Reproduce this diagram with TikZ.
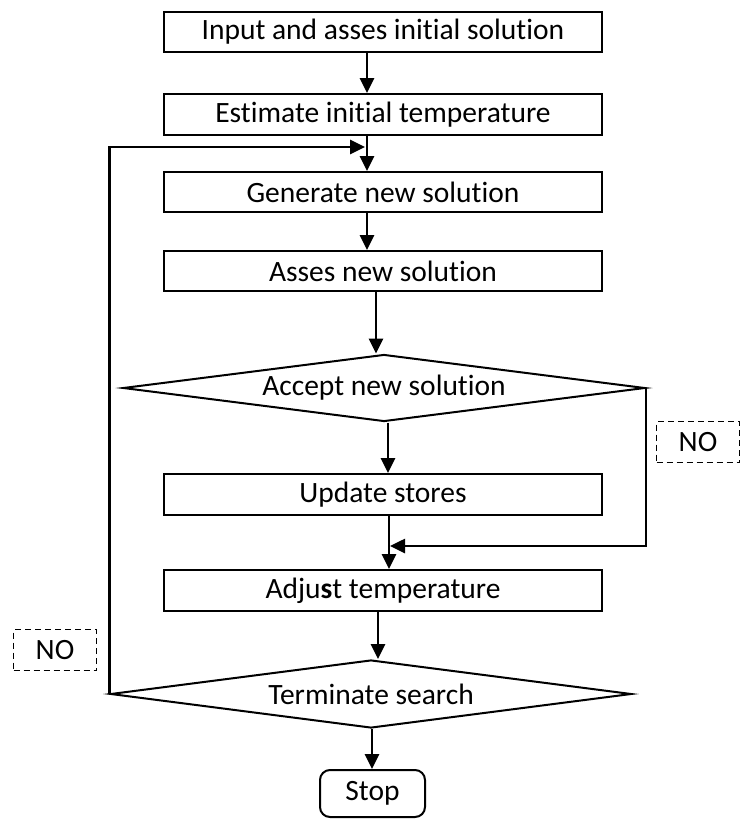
\documentclass[tikz,border=0pt]{standalone}
\usepackage{fontspec}
\setmainfont{Carlito}[Ligatures=NoCommon]
\usetikzlibrary{shapes.geometric,arrows.meta}
\begin{document}
\begin{tikzpicture}[x=1pt,y=-1pt,
  every node/.style={font=\fontsize{29.5}{34}\selectfont},
  procbox/.style={draw,line width=2pt,minimum width=438pt,minimum height=40pt,inner sep=0pt},
  decbox/.style={draw,diamond,line width=2pt,inner sep=0pt,aspect=7.8},
  nobox/.style={draw,dashed,line width=1.5pt,dash pattern=on 6pt off 4pt,minimum width=83pt,minimum height=41pt,inner sep=0pt},
  stopbox/.style={draw,rounded corners=10pt,line width=2pt,minimum width=105pt,minimum height=47pt,inner sep=0pt},
  arr/.style={line width=2.8pt,-{Triangle[length=15pt,width=14pt]}}]
\useasboundingbox (0,0) rectangle (743,819);
\node[procbox] (b1) at (383,32) {Input and asses initial solution};
\node[procbox,minimum height=41pt] (b2) at (383,114.5) {Estimate initial temperature};
\node[procbox] (b3) at (383,192) {Generate new solution};
\node[procbox] (b4) at (383,271) {Asses new solution};
\node[decbox,minimum width=522pt,minimum height=67pt] (d1) at (384,388) {Accept new solution};
\node[procbox,minimum height=41pt] (b5) at (383,494.5) {Update stores};
\node[procbox,minimum height=41pt] (b6) at (383,590.5) {Adju\textbf{s}t temperature};
\node[decbox,minimum width=521pt,minimum height=68pt] (d2) at (371,694) {Terminate search};
\node[stopbox] (stop) at (372.5,793.5) {Stop};
\node[nobox] (no1) at (698,442) {NO};
\node[nobox] (no2) at (55,650) {NO};
\coordinate (xa) at (367,0);
\coordinate (xb) at (376,0);
\coordinate (xc) at (388,0);
\coordinate (xd) at (389,0);
\coordinate (xe) at (378,0);
\coordinate (xf) at (372,0);
\coordinate (yfb) at (0,147);
\coordinate (yrt) at (0,546);
\draw[arr] (b1.south -| xa) -- (b2.north -| xa);
\draw[arr] (b2.south -| xa) -- (b3.north -| xa);
\draw[arr] (b3.south -| xa) -- (b4.north -| xa);
\draw[arr] (b4.south -| xb) -- (d1.north -| xb);
\draw[arr] (d1.south -| xc) -- (b5.north -| xc);
\draw[arr] (b5.south -| xd) -- (b6.north -| xd);
\draw[arr] (b6.south -| xe) -- (d2.north -| xe);
\draw[arr] (d2.south -| xf) -- (stop.north -| xf);
\draw[arr,line width=2.6pt] (d2.west) -- (d2.west |- yfb) -- ([xshift=-2pt]yfb -| xa);
\draw[arr,line width=2.6pt] (d1.east) -- (d1.east |- yrt) -- ([xshift=1pt]yrt -| xd);
\end{tikzpicture}
\end{document}
